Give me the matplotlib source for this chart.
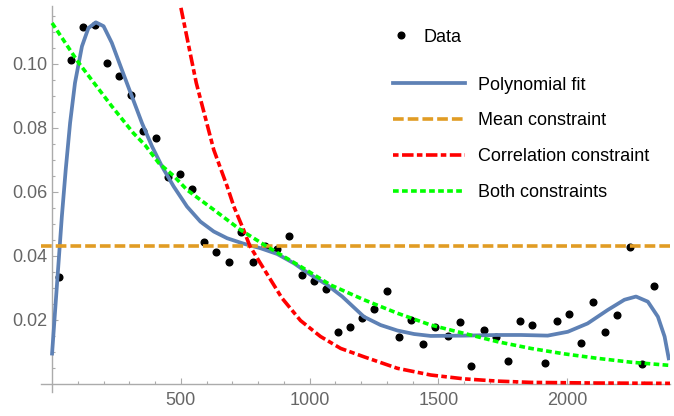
import numpy as np
import matplotlib
matplotlib.use('Agg')
import matplotlib.pyplot as plt

plt.rcParams['font.family'] = ['Liberation Sans', 'DejaVu Sans']
plt.rcParams['lines.scale_dashes'] = False

# Data points
x_data = [25, 73, 119, 167, 213, 261, 307, 355, 402, 450, 497, 543, 591, 638, 686, 733, 779,
          827, 874, 921, 969, 1016, 1062, 1110, 1157, 1205, 1252, 1300, 1346, 1393, 1441, 1488,
          1536, 1583, 1629, 1677, 1724, 1772, 1818, 1865, 1913, 1960, 2006, 2054, 2101, 2149,
          2196, 2243, 2291, 2337]
y_data = [0.0335, 0.1011, 0.1113, 0.1120, 0.1003, 0.0962, 0.0903, 0.0791, 0.0769, 0.0645,
          0.0655, 0.0609, 0.0443, 0.0412, 0.0381, 0.0476, 0.0381, 0.0432, 0.0422, 0.0461,
          0.0340, 0.0321, 0.0298, 0.0162, 0.0177, 0.0207, 0.0233, 0.0291, 0.0147, 0.0200,
          0.0124, 0.0177, 0.0150, 0.0193, 0.0056, 0.0170, 0.0147, 0.0071, 0.0197, 0.0184,
          0.0067, 0.0196, 0.0219, 0.0127, 0.0257, 0.0161, 0.0214, 0.0428, 0.0063, 0.0306]

# Polynomial fit curve
x_poly = [0, 12, 25, 38, 53, 70, 89, 116, 141, 170, 200, 232, 271, 310, 349, 388, 427, 472,
          524, 576, 628, 680, 744, 809, 874, 939, 1004, 1069, 1127, 1211, 1276, 1341, 1406,
          1471, 1600, 1730, 1821, 1925, 2003, 2080, 2158, 2223, 2268, 2314, 2353, 2379, 2395]
y_poly = [0.0095, 0.0231, 0.0377, 0.0523, 0.0669, 0.0815, 0.0940, 0.1054, 0.1111, 0.1129,
          0.1117, 0.1065, 0.0981, 0.0898, 0.0815, 0.0742, 0.0679, 0.0617, 0.0554, 0.0507,
          0.0476, 0.0455, 0.0438, 0.0424, 0.0406, 0.0377, 0.0341, 0.0309, 0.0273, 0.0210,
          0.0184, 0.0167, 0.0156, 0.0150, 0.0151, 0.0153, 0.0153, 0.0151, 0.0163, 0.0189,
          0.0231, 0.0263, 0.0273, 0.0257, 0.0210, 0.0148, 0.0080]

# Mean constraint
mean_level = 0.0431

# Correlation constraint
x_corr = [490, 498, 560, 628, 680, 706, 744, 768, 809, 893, 965, 1043, 1121, 1211, 1341,
          1471, 1600, 1730, 1860, 2119, 2400]
y_corr = [0.1215, 0.1184, 0.0940, 0.0731, 0.0617, 0.0554, 0.0481, 0.0431, 0.0377, 0.0268,
          0.0198, 0.0148, 0.0111, 0.0085, 0.0049, 0.0028, 0.0016, 0.0009, 0.0005, 0.0003,
          0.0002]

# Both constraints
x_both = [0, 102, 232, 316, 362, 414, 472, 524, 576, 628, 732, 835, 965, 1082, 1211, 1341,
          1471, 1600, 1730, 1860, 1990, 2119, 2249, 2400]
y_both = [0.1127, 0.1004, 0.0867, 0.0783, 0.0745, 0.0690, 0.0650, 0.0606, 0.0575, 0.0544,
          0.0481, 0.0429, 0.0367, 0.0309, 0.0263, 0.0221, 0.0184, 0.0158, 0.0132, 0.0111,
          0.0094, 0.0080, 0.0068, 0.0058]

blue = '#5E81B5'
orange = '#E19C24'
grey = '#ABABAB'

fig = plt.figure(figsize=(6.74, 4.16), dpi=100)
ax = fig.add_axes([41/674, 24/416, 629/674, 386/416])

pts, = ax.plot(x_data, y_data, 'o', color='black', ms=4.8, zorder=2, label='Data')
l1, = ax.plot(x_poly, y_poly, color=blue, lw=2.7, zorder=3, label='Polynomial fit')
l2 = ax.axhline(mean_level, color=orange, lw=2.6, dashes=(7.7, 2.9), zorder=4,
                label='Mean constraint')
l3, = ax.plot(x_corr, y_corr, color='red', lw=2.6, dashes=(4.0, 2.5, 8.3, 2.4), zorder=5,
              label='Correlation constraint')
l4, = ax.plot(x_both, y_both, color='#00FF00', lw=2.6, dashes=(4.1, 2.4), zorder=6,
              label='Both constraints')

ax.set_xlim(-43, 2400)
ax.set_ylim(-0.0025, 0.118)

# Mathematica-like axes crossing at the origin
for side in ['top', 'right']:
    ax.spines[side].set_visible(False)
ax.spines['left'].set_position(('data', 0))
ax.spines['bottom'].set_position(('data', 0))
for side in ['left', 'bottom']:
    ax.spines[side].set_color(grey)
    ax.spines[side].set_linewidth(1.0)

ax.set_xticks([500, 1000, 1500, 2000])
ax.set_xticks([v for v in range(100, 2400, 100) if v % 500 != 0], minor=True)
ax.set_yticks([0.02, 0.04, 0.06, 0.08, 0.10])
ax.set_yticklabels(['0.02', '0.04', '0.06', '0.08', '0.10'])
ax.set_yticks([v / 1000 for v in range(5, 120, 5) if v % 20 != 0], minor=True)
ax.tick_params(which='both', direction='in', color=grey, width=0.8, labelsize=13,
               labelcolor='#666666')
ax.tick_params(which='major', length=4)
ax.tick_params(which='minor', length=2.2)
ax.tick_params(axis='x', pad=6)
ax.tick_params(axis='y', pad=3.5)

leg1 = ax.legend(handles=[pts], loc='upper left', bbox_to_anchor=(392/674, 1 - 28.5/416),
                 bbox_transform=fig.transFigure, frameon=False, fontsize=13, borderpad=0,
                 borderaxespad=0, handlelength=1.0, handletextpad=0.72, numpoints=1)
ax.add_artist(leg1)
ax.legend(handles=[l1, l2, l3, l4], loc='upper left', bbox_to_anchor=(393/674, 1 - 76.5/416),
          bbox_transform=fig.transFigure, frameon=False, fontsize=13, borderpad=0,
          borderaxespad=0, handlelength=3.99, handletextpad=0.72, labelspacing=1.05)

fig.savefig('out.png', dpi=100)
